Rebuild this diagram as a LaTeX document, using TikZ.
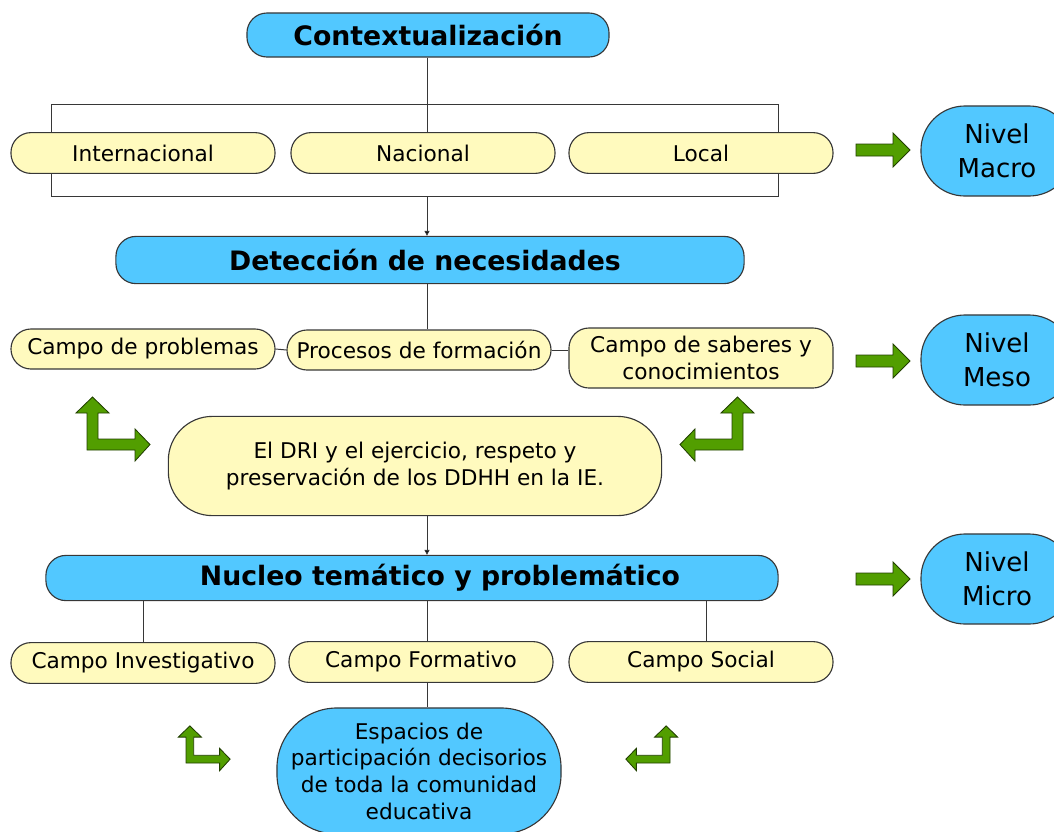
\documentclass[tikz,border=0pt]{standalone}
\usepackage{fontspec}
\setmainfont{DejaVu Sans}
\usetikzlibrary{arrows.meta}
\definecolor{skyfill}{RGB}{82,200,255}
\definecolor{creamfill}{RGB}{255,250,190}
\definecolor{leafgreen}{RGB}{82,158,0}
\definecolor{edgegray}{RGB}{55,55,55}
\tikzset{head node/.style={rectangle,rounded corners=0.5cm,fill=skyfill,draw=edgegray,line width=0.8pt,inner sep=0pt,font=\fontsize{19}{22}\selectfont\bfseries},
  field node/.style={rectangle,rounded corners=0.5cm,fill=creamfill,draw=edgegray,line width=0.8pt,inner sep=0pt,minimum width=6.6cm,minimum height=1.02cm,align=center,font=\fontsize{15.4}{19}\selectfont},
  level node/.style={rectangle,rounded corners=1.1cm,fill=skyfill,draw=edgegray,line width=0.8pt,inner sep=0pt,minimum width=3.8cm,minimum height=2.25cm,align=center,font=\fontsize{18.5}{24}\selectfont},
  green shape/.style={fill=leafgreen,draw=black!60!leafgreen,line width=0.6pt,line join=miter},
  bent arrow/.pic={\draw[green shape] (0,0) -- (48,0) -- (48,11) -- (63,-5.5) -- (48,-21) -- (48,-11) -- (11,-11) -- (11,-37) -- (22,-37) -- (5.5,-53) -- (-11,-37) -- (0,-37) -- cycle;},
  side arrow/.pic={\draw[green shape] (0,-6) -- (37,-6) -- (37,-17) -- (54,0) -- (37,17) -- (37,6) -- (0,6) -- cycle;}
}

\begin{document}
\begin{tikzpicture}[x=0.025cm,y=-0.025cm,
        link/.style={draw=edgegray,line width=0.7pt},
        tip/.style={-{Triangle[length=3.5pt,width=3.5pt]}}]
   \useasboundingbox (0,0) rectangle (1054,831);
   \coordinate (spine) at (427,0);
   \draw[link] (51,104) rectangle (778,196);
   \coordinate (frame bottom) at (427,196);

   \node[head node,minimum width=9.05cm,minimum height=1.1cm] (ctx) at (428,35) {Contextualización};
   \node[field node] (int) at (143,153) {Internacional};
   \node[field node] (nac) at (423,153) {Nacional};
   \node[field node] (loc) at (701,153) {Local};

   \node[head node,minimum width=15.7cm,minimum height=1.18cm] (det) at (430,260) {Detección de necesidades\hspace*{0.25cm}};
   \node[field node,minimum height=1cm] (prob) at (143,349) {Campo de problemas};
   \node[field node,minimum height=1cm] (proc) at (419,350) {Procesos de formación};
   \node[field node,minimum height=1.5cm] (sab) at (701,358) {Campo de saberes y\\conocimientos};
   \node[field node,rounded corners=1.1cm,minimum width=12.33cm,minimum height=2.48cm] (dri) at (415,466) {El DRI y el ejercicio, respeto y\\preservación de los DDHH en la IE.};

   \node[head node,minimum width=18.3cm,minimum height=1.13cm] (nuc) at (412,578) {\hspace*{1.4cm}Nucleo temático y problemático};
   \node[field node] (inv) at (143,663) {Campo Investigativo};
   \node[field node] (form) at (421,662) {Campo Formativo};
   \node[field node] (soc) at (701,662) {Campo Social};
   \node[head node,font=\fontsize{15.4}{19}\selectfont,align=center,rounded corners=1.5cm,minimum width=7.1cm,minimum height=3.15cm] (esp) at (419,771) {Espacios de\\participación decisorios\\de toda la comunidad\\educativa};

   \node[level node] (macro) at (997,151) {Nivel\\Macro};
   \node[level node] (meso) at (997,360) {Nivel\\Meso};
   \node[level node] (micro) at (997,579) {Nivel\\Micro};

   \path[link] (ctx.south -| spine) edge (nac.north -| spine)
     (frame bottom) edge[tip] (det.north -| spine)
     (det.south -| spine) edge (proc.north -| spine)
     (prob.east) edge (proc.west)
     (proc.east) edge (proc.east -| sab.west)
     (dri.south -| spine) edge[tip] (nuc.north -| spine)
     (nuc.south -| inv) edge (inv.north)
     (nuc.south -| spine) edge (form.north -| spine)
     (soc.north) ++(5,0) coordinate (soc top) edge (nuc.south -| soc top)
     (form.south -| spine) edge (esp.north -| spine);

   \pic at (87,450) {bent arrow};
   \pic[xscale=-1] at (743,450) {bent arrow};
   \pic[scale=0.7] at (186,763) {bent arrow};
   \pic[xscale=-0.7,yscale=0.7] at (670,763) {bent arrow};
   \pic at (856,150) {side arrow};
   \pic at (856,361) {side arrow};
   \pic at (856,579) {side arrow};
\end{tikzpicture}
\end{document}
